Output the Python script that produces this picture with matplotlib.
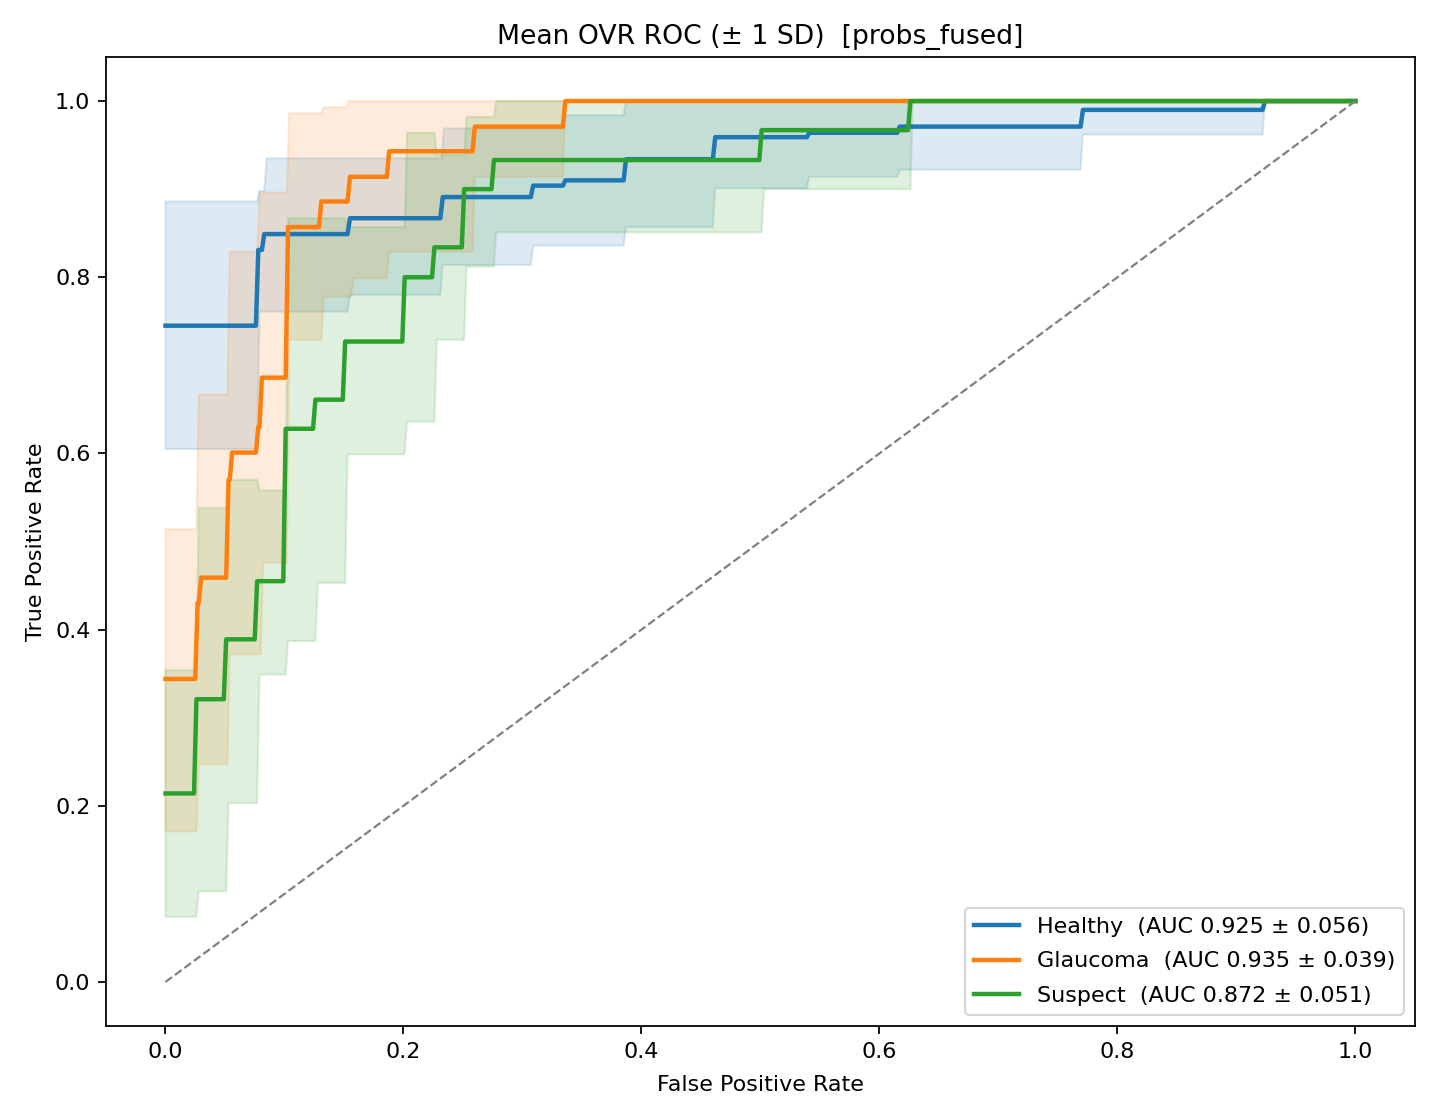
import numpy as np
import matplotlib
matplotlib.use('Agg')
import matplotlib.pyplot as plt

# --- mean OVR ROC per class: step start positions (FPR) and TPR levels

classes = ['Healthy', 'Glaucoma', 'Suspect']
auc_mean = [0.925, 0.935, 0.872]
auc_sd = [0.056, 0.039, 0.051]

healthy_mean_x = [0, 0.076, 0.081, 0.153, 0.231, 0.307, 0.334, 0.385, 0.460, 0.539, 0.615, 0.769, 0.922]
healthy_mean_y = [0.745, 0.831, 0.849, 0.867, 0.891, 0.904, 0.910, 0.934, 0.959, 0.964, 0.971, 0.990, 1.0]
healthy_upper_x = [0, 0.077, 0.083, 0.232, 0.334, 0.385]
healthy_upper_y = [0.886, 0.898, 0.935, 0.969, 0.984, 1.0]
healthy_lower_x = [0, 0.077, 0.153, 0.231, 0.307, 0.385, 0.460, 0.539, 0.615, 0.769, 0.922]
healthy_lower_y = [0.605, 0.761, 0.780, 0.814, 0.836, 0.857, 0.901, 0.914, 0.922, 0.962, 1.0]

glaucoma_mean_x = [0, 0.025, 0.028, 0.051, 0.054, 0.076, 0.079, 0.101, 0.129, 0.153, 0.186, 0.258, 0.334]
glaucoma_mean_y = [0.344, 0.430, 0.459, 0.570, 0.601, 0.630, 0.686, 0.857, 0.886, 0.914, 0.943, 0.971, 1.0]
glaucoma_upper_x = [0, 0.026, 0.052, 0.077, 0.102, 0.131, 0.152]
glaucoma_upper_y = [0.514, 0.667, 0.829, 0.896, 0.986, 0.993, 1.0]
glaucoma_lower_x = [0, 0.026, 0.052, 0.080, 0.102, 0.131, 0.156, 0.186, 0.258, 0.334]
glaucoma_lower_y = [0.171, 0.247, 0.372, 0.476, 0.729, 0.778, 0.799, 0.829, 0.914, 1.0]

suspect_mean_x = [0, 0.024, 0.049, 0.075, 0.099, 0.124, 0.149, 0.199, 0.224, 0.249, 0.274, 0.499, 0.624]
suspect_mean_y = [0.214, 0.321, 0.389, 0.455, 0.628, 0.661, 0.727, 0.800, 0.834, 0.900, 0.933, 0.967, 1.0]
suspect_upper_x = [0, 0.026, 0.051, 0.077, 0.101, 0.151, 0.201, 0.226, 0.251, 0.276]
suspect_upper_y = [0.354, 0.538, 0.570, 0.558, 0.867, 0.857, 0.964, 0.939, 0.982, 1.0]
suspect_lower_x = [0, 0.026, 0.051, 0.077, 0.101, 0.126, 0.151, 0.201, 0.226, 0.251, 0.276, 0.501, 0.626]
suspect_lower_y = [0.074, 0.103, 0.203, 0.349, 0.387, 0.453, 0.599, 0.636, 0.729, 0.812, 0.851, 0.900, 1.0]

series = [
    (healthy_mean_x, healthy_mean_y, healthy_upper_x, healthy_upper_y, healthy_lower_x, healthy_lower_y),
    (glaucoma_mean_x, glaucoma_mean_y, glaucoma_upper_x, glaucoma_upper_y, glaucoma_lower_x, glaucoma_lower_y),
    (suspect_mean_x, suspect_mean_y, suspect_upper_x, suspect_upper_y, suspect_lower_x, suspect_lower_y),
]
colors = ['tab:blue', 'tab:orange', 'tab:green']


def step_path(xs, ys, ramp=0.002):
    # turn step starts/levels into a polyline with short sloped risers, ending at FPR=1
    px, py = [xs[0]], [ys[0]]
    for i in range(1, len(xs)):
        px += [xs[i], xs[i] + ramp]
        py += [ys[i - 1], ys[i]]
    px.append(1.0)
    py.append(ys[-1])
    return np.array(px), np.array(py)


fig, ax = plt.subplots(figsize=(9, 7), dpi=160)
fig.subplots_adjust(left=0.0736, right=0.9826, bottom=0.0839, top=0.9491)

for name, m, s, (mx, my, ux, uy, lx, ly), c in zip(classes, auc_mean, auc_sd, series, colors):
    upx, upy = step_path(ux, uy)
    lox, loy = step_path(lx, ly)
    ax.fill(np.concatenate([upx, lox[::-1]]), np.concatenate([upy, loy[::-1]]),
            color=c, alpha=0.15, linewidth=1)
    px, py = step_path(mx, my)
    ax.plot(px, py, color=c, lw=2, label=f'{name}  (AUC {m:.3f} ± {s:.3f})')

ax.plot([0, 1], [0, 1], '--', color='gray', lw=1)
ax.set_xlabel('False Positive Rate', labelpad=6)
ax.set_ylabel('True Positive Rate')
ax.set_title('Mean OVR ROC (± 1 SD)  [probs_fused]')
ax.legend(loc='lower right', labelspacing=0.66)

fig.savefig('out.png')
